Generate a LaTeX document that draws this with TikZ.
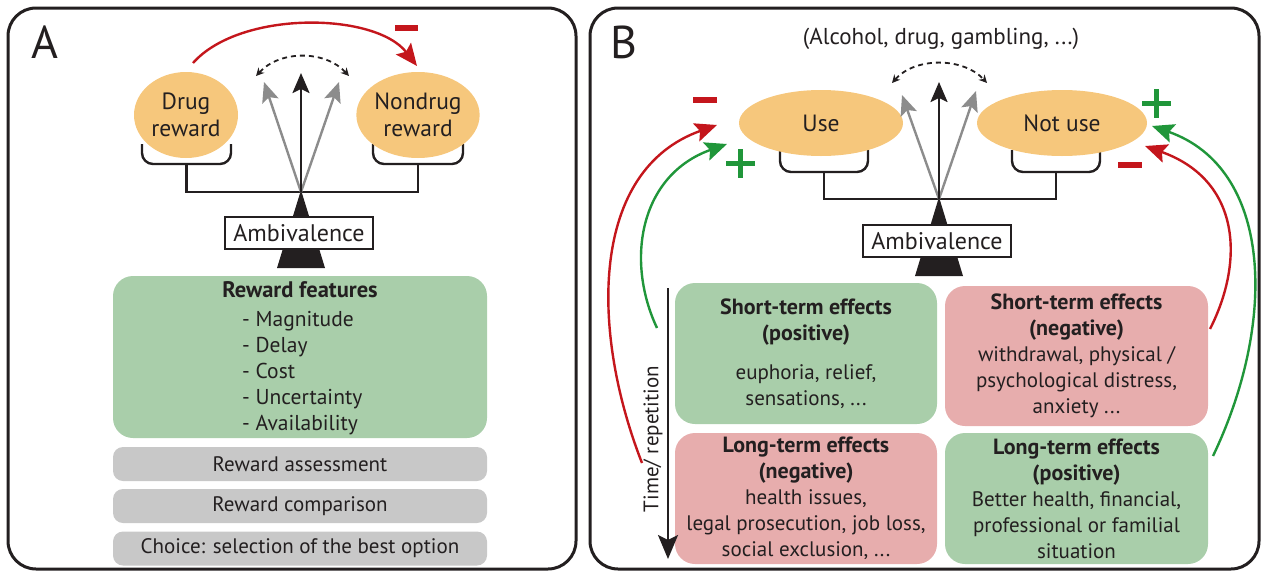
\documentclass[tikz,border=0pt]{standalone}
\usepackage{fontspec}
\setmainfont{PT Sans}
\usetikzlibrary{shapes.geometric,arrows.meta}
\definecolor{orng}{HTML}{F6C77C}
\definecolor{gbox}{HTML}{A9CEAA}
\definecolor{rbox}{HTML}{E7ADAD}
\definecolor{gbx}{HTML}{C8C8C8}
\definecolor{redc}{HTML}{C4161C}
\definecolor{grnc}{HTML}{20963A}
\definecolor{garr}{HTML}{8C8C8C}
\definecolor{ink}{HTML}{231F20}
\newcommand{\hd}[1]{{\bfseries\fontsize{22}{26}\selectfont #1}}
\tikzset{
 panel/.style={draw=ink,line width=3pt,rounded corners=28pt},
 reward/.style={ellipse,fill=orng,inner sep=0pt,align=center,text=ink,font=\fontsize{23.5}{27}\selectfont},
 pan/.style={draw=ink,line width=2.4pt,rounded corners=11pt},
 beam/.style={draw=ink,line width=2.4pt},
 ambi/.style={draw=ink,line width=2.4pt,fill=white,minimum width=148pt,minimum height=32pt,inner sep=0pt,text=ink,font=\fontsize{24}{26}\selectfont},
 pivot/.style={fill=ink},
 bigtip/.tip={Stealth[length=20pt,width=17pt,inset=4pt]},
 blkarrow/.style={draw=ink,line width=2.4pt,-bigtip},
 greyarrow/.style={draw=garr,line width=2.4pt,-bigtip},
 swing/.style={draw=ink,line width=1.8pt,dash pattern=on 5pt off 4pt,{Stealth[length=8pt,width=8pt]}-{Stealth[length=8pt,width=8pt]}},
 effectarrow/.style={line width=2.4pt,-{Stealth[length=22pt,width=19pt,inset=4pt]}},
 card/.style={rounded corners=20pt,inner sep=0pt,align=center,text=ink,font=\fontsize{21}{26}\selectfont},
 bar/.style={rounded corners=10pt,fill=gbx,inner sep=0pt,text=ink,font=\fontsize{21}{24}\selectfont,minimum width=374pt,minimum height=34pt},
 lbl/.style={text=ink,font=\fontsize{46}{46}\selectfont,inner sep=0pt},
 plain/.style={text=ink,font=\fontsize{21}{24}\selectfont},
}
\begin{document}
\begin{tikzpicture}[x=1pt,y=-1pt]
\useasboundingbox (0,0) rectangle (1263,573);
% ---------------- Panel A ----------------
\draw[panel] (8,8) rectangle (576,569);
\node[lbl] (labA) at (45,42) {A};
\draw[pan] (142,144) -- (142,164) -- (231,164) -- (231,144);
\draw[pan] (373,144) -- (373,164) -- (463,164) -- (463,144);
\node[reward,minimum width=104pt,minimum height=86pt] (drug) at (186,115) {Drug\\reward};
\node[reward,minimum width=120pt,minimum height=86pt] (nondrug) at (418,115) {Nondrug\\reward};
\coordinate (pivA) at (301,192);
\draw[beam] (186.5,164) -- (186.5,192) -- (418,192) -- (418,164);
\fill[pivot] (301,190) -- (277,268) -- (325,268) -- cycle;
\node[ambi] (ambA) at (299,233) {Ambivalence};
\coordinate (tA1) at (264,82);
\coordinate (tA2) at (301,73);
\coordinate (tA3) at (339,82);
\draw[greyarrow] (pivA) -- (tA1);
\draw[greyarrow] (pivA) -- (tA3);
\draw[blkarrow] (pivA) -- (tA2);
\coordinate (sA1) at (256,76);
\coordinate (sA2) at (349,76);
\draw[swing] (sA1) .. controls (280,50) and (325,50) .. (sA2);
\coordinate (rA0) at (193,63);
\coordinate (rA1) at (417,66);
\draw[effectarrow,draw=redc] (rA0) .. controls (240,10) and (375,12) .. (rA1);
\fill[redc] (395,25) rectangle (418,31);
\node[card,fill=gbox,minimum width=374pt,minimum height=162pt] (feat) at (300,357) {};
\node[plain,font=\bfseries\fontsize{22.5}{24}\selectfont] (featT) at (300,290) {Reward features};
\node[plain,anchor=west,align=left,inner sep=0pt,font=\fontsize{21.5}{25.8}\selectfont] (featL) at (242,373) {- Magnitude\\- Delay\\- Cost\\- Uncertainty\\- Availability};
\node[bar] (assess) at (300,464) {Reward assessment};
\node[bar] (compar) at (300,506) {Reward comparison};
\node[bar] (choice) at (300,548.5) {Choice: selection of the best option};
% ---------------- Panel B ----------------
\draw[panel] (590,8) rectangle (1259,569);
\node[lbl] (labB) at (624,42) {B};
\node[plain,font=\fontsize{23}{26}\selectfont] (subst) at (941,39) {(Alcohol, drug, gambling, ...)};
\draw[pan] (780,150) -- (780,172) -- (868,172) -- (868,150);
\draw[pan] (1012,150) -- (1012,172) -- (1100,172) -- (1100,150);
\node[reward,minimum width=164pt,minimum height=66pt] (use) at (821,123) {Use};
\node[reward,minimum width=170pt,minimum height=66pt] (notuse) at (1062,123) {Not use};
\coordinate (pivB) at (939,199);
\draw[beam] (824,172) -- (824,199) -- (1056,199) -- (1056,172);
\fill[pivot] (939,197) -- (915,276) -- (963,276) -- cycle;
\node[ambi] (ambB) at (937,241) {Ambivalence};
\coordinate (tB1) at (902,95);
\coordinate (tB2) at (939,82);
\coordinate (tB3) at (976,91);
\draw[greyarrow] (pivB) -- (tB1);
\draw[greyarrow] (pivB) -- (tB3);
\draw[blkarrow] (pivB) -- (tB2);
\coordinate (sB1) at (892,83);
\coordinate (sB2) at (987,83);
\draw[swing] (sB1) .. controls (915,57) and (963,57) .. (sB2);
% effect cards
\node[card,fill=gbox,minimum width=262pt,minimum height=141pt] (stpos) at (806,353.5)
 {\hd{Short-term effects}\\\hd{(positive)}\\[13pt]euphoria, relief,\\sensations, ...};
\node[card,fill=rbox,minimum width=263pt,minimum height=140pt] (stneg) at (1076.5,356)
 {\hd{Short-term effects}\\\hd{(negative)}\\withdrawal, physical /\\psychological distress,\\anxiety ...};
\node[card,fill=rbox,minimum width=262pt,minimum height=131pt] (ltneg) at (806,498.5)
 {\hd{Long-term effects}\\\hd{(negative)}\\health issues,\\legal prosecution, job loss,\\social exclusion, ...};
\node[card,fill=gbox,minimum width=263pt,minimum height=131pt] (ltpos) at (1076.5,498.5)
 {\hd{Long-term effects}\\\hd{(positive)}\\Better health, financial,\\professional or familial\\situation};
% time arrow
\coordinate (tm0) at (668,288);
\coordinate (tm1) at (668,559);
\draw[draw=ink,line width=2.4pt,-{Stealth[length=24pt,width=20pt,inset=5pt]}] (tm0) -- (tm1);
\node[plain,rotate=90] (timelbl) at (653,439) {Time/ repetition};
% feedback arrows
\coordinate (rL0) at (642,463);
\coordinate (rL1) at (717,125);
\coordinate (gL0) at (657,328);
\coordinate (gL1) at (727,144);
\coordinate (rR0) at (1210,329);
\coordinate (rR1) at (1145,146);
\coordinate (gR0) at (1213,456);
\coordinate (gR1) at (1152,126);
\draw[effectarrow,draw=redc] (rL0) .. controls (590,330) and (590,170) .. (rL1);
\draw[effectarrow,draw=grnc] (gL0) .. controls (625,260) and (640,175) .. (gL1);
\draw[effectarrow,draw=redc] (rR0) .. controls (1245,260) and (1240,180) .. (rR1);
\draw[effectarrow,draw=grnc] (gR0) .. controls (1278,320) and (1272,168) .. (gR1);
% signs
\fill[redc] (693,97) rectangle (717,103);
\fill[grnc] (725.5,160.5) rectangle (754.5,165.5);
\fill[grnc] (737.5,148.5) rectangle (742.5,177.5);
\fill[redc] (1118,162) rectangle (1142,168);
\fill[grnc] (1141.5,100.5) rectangle (1170.5,105.5);
\fill[grnc] (1153.5,88.5) rectangle (1158.5,117.5);
\end{tikzpicture}
\end{document}
